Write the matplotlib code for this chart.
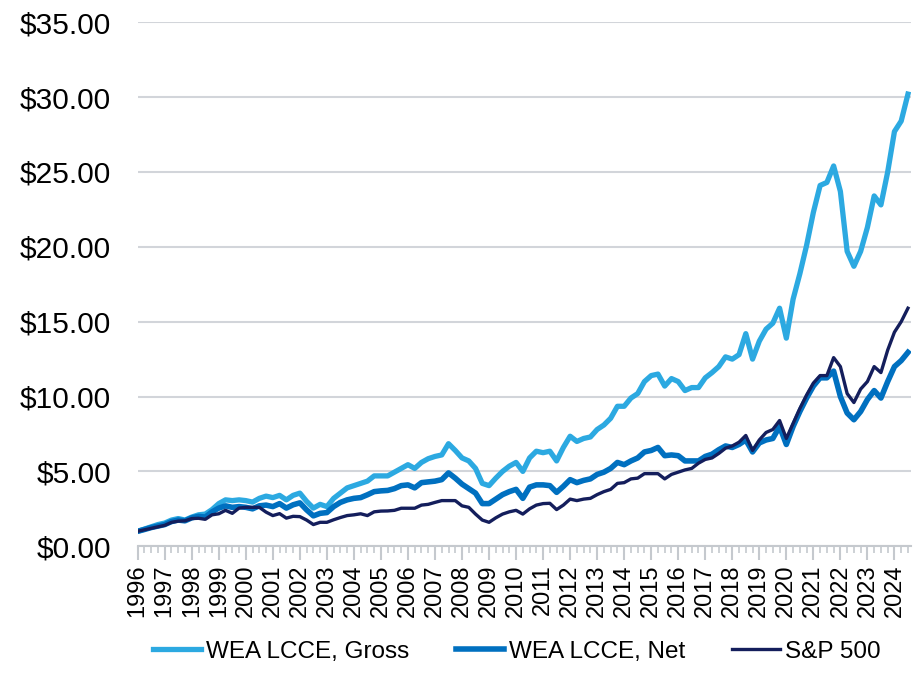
import numpy as np
import matplotlib
matplotlib.use("Agg")
import matplotlib.pyplot as plt
from matplotlib.ticker import FuncFormatter, MultipleLocator

plt.rcParams['font.family'] = ['Liberation Sans', 'DejaVu Sans']

# === Data: quarterly growth of $1, 1996Q1 .. 2024Q3 ===
years = list(range(1996, 2025))

gross = [1.00, 1.15, 1.30, 1.45, 1.55, 1.75, 1.85, 1.75, 1.95, 2.10,
         2.15, 2.45, 2.85, 3.10, 3.05, 3.10, 3.05, 2.95, 3.20, 3.35,
         3.25, 3.40, 3.10, 3.40, 3.55, 3.00, 2.55, 2.80, 2.65, 3.20,
         3.55, 3.90, 4.05, 4.20, 4.35, 4.70, 4.70, 4.70, 4.95, 5.20,
         5.45, 5.20, 5.60, 5.85, 6.00, 6.10, 6.85, 6.40, 5.90, 5.70,
         5.20, 4.20, 4.05, 4.55, 5.00, 5.35, 5.60, 5.00, 5.90, 6.35,
         6.25, 6.35, 5.70, 6.60, 7.35, 7.00, 7.20, 7.30, 7.80, 8.10,
         8.55, 9.35, 9.35, 9.90, 10.20, 11.00, 11.40, 11.50, 10.70, 11.20,
         11.00, 10.40, 10.60, 10.60, 11.25, 11.60, 12.00, 12.65, 12.50, 12.80,
         14.20, 12.50, 13.70, 14.50, 14.90, 15.90, 13.90, 16.50, 18.20, 20.10,
         22.30, 24.10, 24.30, 25.40, 23.70, 19.70, 18.70, 19.70, 21.30, 23.40,
         22.80, 25.00, 27.70, 28.40, 30.20]

net = [1.00, 1.12, 1.25, 1.35, 1.45, 1.65, 1.75, 1.70, 1.90, 2.00,
       1.95, 2.30, 2.55, 2.70, 2.60, 2.65, 2.60, 2.50, 2.70, 2.75,
       2.65, 2.85, 2.55, 2.77, 2.90, 2.43, 2.03, 2.20, 2.25, 2.65,
       2.93, 3.10, 3.20, 3.25, 3.44, 3.65, 3.70, 3.73, 3.85, 4.05,
       4.10, 3.90, 4.25, 4.30, 4.35, 4.45, 4.90, 4.55, 4.15, 3.85,
       3.55, 2.85, 2.85, 3.15, 3.45, 3.65, 3.80, 3.20, 3.95, 4.10,
       4.10, 4.05, 3.60, 4.00, 4.45, 4.25, 4.40, 4.50, 4.80, 4.95,
       5.20, 5.60, 5.45, 5.70, 5.90, 6.30, 6.40, 6.60, 6.05, 6.10,
       6.05, 5.70, 5.70, 5.70, 6.00, 6.15, 6.45, 6.70, 6.60, 6.80,
       7.10, 6.30, 6.90, 7.10, 7.20, 8.00, 6.80, 8.00, 9.00, 9.90,
       10.70, 11.25, 11.25, 11.70, 10.00, 8.90, 8.45, 9.00, 9.80, 10.40,
       9.90, 11.00, 12.00, 12.40, 12.95]

sp500 = [1.00, 1.10, 1.20, 1.30, 1.40, 1.60, 1.68, 1.70, 1.85, 1.87,
         1.80, 2.10, 2.17, 2.40, 2.20, 2.55, 2.60, 2.60, 2.60, 2.28,
         2.05, 2.18, 1.88, 2.00, 1.98, 1.75, 1.45, 1.60, 1.60, 1.77,
         1.92, 2.05, 2.10, 2.17, 2.05, 2.30, 2.35, 2.36, 2.40, 2.54,
         2.54, 2.54, 2.75, 2.80, 2.93, 3.05, 3.05, 3.05, 2.70, 2.60,
         2.15, 1.75, 1.60, 1.90, 2.15, 2.30, 2.40, 2.15, 2.50, 2.75,
         2.85, 2.87, 2.45, 2.75, 3.15, 3.05, 3.15, 3.20, 3.45, 3.65,
         3.80, 4.20, 4.25, 4.50, 4.55, 4.85, 4.85, 4.85, 4.50, 4.80,
         4.95, 5.10, 5.20, 5.55, 5.80, 5.90, 6.20, 6.55, 6.70, 6.95,
         7.40, 6.40, 7.10, 7.60, 7.80, 8.40, 7.20, 8.20, 9.20, 10.10,
         10.90, 11.40, 11.40, 12.60, 12.00, 10.20, 9.60, 10.50, 11.00, 12.00,
         11.60, 13.10, 14.30, 15.00, 15.90]

labels = ["WEA LCCE, Gross", "WEA LCCE, Net", "S&P 500"]
colors = ["#2CA9E1", "#0070C0", "#141E5C"]
widths = [3.8, 4.0, 2.4]

x = np.arange(len(gross))

# === Plot ===
fig = plt.figure(figsize=(9.18, 6.95), dpi=100)
ax = fig.add_axes([0.150, 0.214, 0.842, 0.754])

for series, lab, col, lw in zip([gross, net, sp500], labels, colors, widths):
    ax.plot(x, series, color=col, lw=lw, label=lab, solid_joinstyle='round')

ax.set_ylim(0, 35)
ax.set_xlim(0, len(gross) - 0.6)
ax.yaxis.set_major_locator(MultipleLocator(5))
ax.yaxis.set_major_formatter(FuncFormatter(lambda v, p: f"${v:.2f}"))
ax.grid(axis='y', color='#D2D5DA', lw=1.5)
ax.set_axisbelow(True)

ax.set_xticks(np.arange(0, len(gross), 4))
ax.set_xticklabels([str(y) for y in years], rotation=90, fontsize=17)
ax.set_xticks(np.arange(0, len(gross)), minor=True)
ax.tick_params(axis='x', which='major', length=10, width=1.5, color='#C5C9CE', pad=3)
ax.tick_params(axis='x', which='minor', length=5, width=1.2, color='#C5C9CE')
ax.tick_params(axis='y', length=0, labelsize=21.5, pad=19)

for side in ['top', 'right', 'left']:
    ax.spines[side].set_visible(False)
ax.spines['bottom'].set_color('#C5C9CE')
ax.spines['bottom'].set_linewidth(1.5)

fig.legend(loc='center', bbox_to_anchor=(0.563, 0.062), ncol=3, frameon=False,
           fontsize=17.5, handlelength=2.0, columnspacing=1.9, handletextpad=0.2)

plt.savefig("out.png")
plt.close()
